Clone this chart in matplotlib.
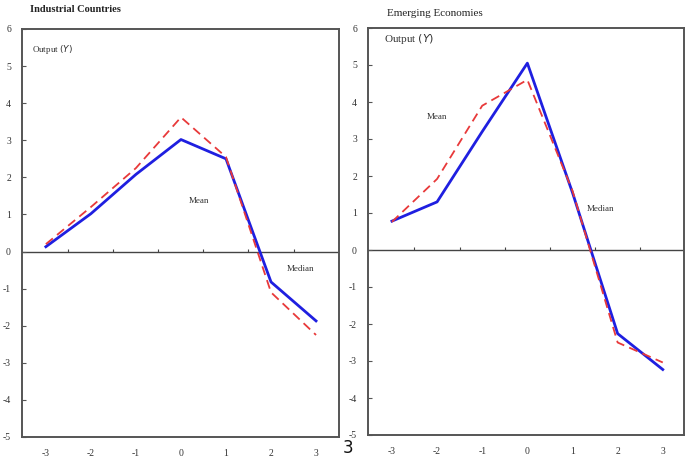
import matplotlib
matplotlib.use("Agg")
import matplotlib.pyplot as plt

plt.rcParams["font.family"] = ["Liberation Serif", "DejaVu Serif"]
plt.rcParams["axes.unicode_minus"] = False

# ── Data ───────────────────────────────────────────────────────────────────────
quarters = [-3, -2, -1, 0, 1, 2, 3]

ind_median = [0.13, 1.02, 2.08, 3.02, 2.50, -0.82, -1.87]   # solid blue
ind_mean   = [0.20, 1.20, 2.25, 3.62, 2.55, -1.10, -2.25]   # dashed red

eme_median = [0.78, 1.30, 3.20, 5.05, 1.55, -2.26, -3.23]
eme_mean   = [0.76, 1.92, 3.90, 4.60, 1.60, -2.50, -3.04]

y_ticks = [-5, -4, -3, -2, -1, 0, 1, 2, 3, 4, 5, 6]
half_ticks = [-2.5, -1.5, -0.5, 0.5, 1.5, 2.5]

C_BLUE = "#1f1fe0"
C_RED = "#e8393a"
C_FRAME = "#555555"
C_TEXT = "#333333"

W, H = 685, 458
fig = plt.figure(figsize=(W / 100, H / 100), dpi=100)


def px_axes(x0, y0, x1, y1):
    return fig.add_axes([x0 / W, 1 - y1 / H, (x1 - x0) / W, (y1 - y0) / H])


def style(ax, xlim):
    ax.set_xlim(*xlim)
    ax.set_ylim(-5, 6)
    ax.set_yticks(y_ticks)
    ax.set_xticks(quarters)
    ax.set_xticklabels([str(q) for q in quarters])
    ax.tick_params(axis="y", direction="in", length=3, width=0.8,
                   pad=8, labelsize=7, labelcolor=C_TEXT, color=C_FRAME)
    ax.tick_params(axis="x", length=0, pad=9, labelsize=7, labelcolor=C_TEXT)
    for s in ax.spines.values():
        s.set_color(C_FRAME)
        s.set_linewidth(1.4)
    ax.axhline(0, color="#444444", lw=1.0, zorder=1)
    ax.vlines(half_ticks, 0, 0.08, color="#444444", lw=0.8, zorder=1)


# ── Industrial countries ───────────────────────────────────────────────────────
ax1 = px_axes(22, 29, 339, 437)
style(ax1, (-3.53, 3.51))
ax1.plot(quarters, ind_mean, color=C_RED, lw=1.3, ls=(0, (5, 3)), zorder=3)
ax1.plot(quarters, ind_median, color=C_BLUE, lw=2.0, zorder=2)
ax1.text(0.03, 0.965, "Output $\\it{(Y)}$", transform=ax1.transAxes,
         fontsize=6.5, color=C_TEXT, va="top", ha="left")
ax1.text(0.4, 1.35, "Mean", fontsize=6.5, color=C_TEXT, ha="center", va="center")
ax1.text(2.65, -0.47, "Median", fontsize=6.5, color=C_TEXT, ha="center", va="center")

# ── Emerging economies ─────────────────────────────────────────────────────────
ax2 = px_axes(368, 28, 684, 435)
style(ax2, (-3.53, 3.47))
ax2.plot(quarters, eme_mean, color=C_RED, lw=1.3, ls=(0, (5, 3)), zorder=3)
ax2.plot(quarters, eme_median, color=C_BLUE, lw=2.0, zorder=2)
ax2.text(0.05, 0.99, "Output $\\it{(Y)}$", transform=ax2.transAxes,
         fontsize=8, color=C_TEXT, va="top", ha="left")
ax2.text(-2.0, 3.6, "Mean", fontsize=6.5, color=C_TEXT, ha="center", va="center")
ax2.text(1.62, 1.12, "Median", fontsize=6.5, color=C_TEXT, ha="center", va="center")

# ── Panel titles and page number ───────────────────────────────────────────────
fig.text(30 / W, 1 - 10 / H, "Industrial Countries", fontsize=7.5,
         fontweight="bold", color="#222222", ha="left", va="center")
fig.text(387 / W, 1 - 13 / H, "Emerging Economies", fontsize=8,
         color="#222222", ha="left", va="center")
fig.text(348 / W, 0.002, "3", fontsize=12, family="DejaVu Sans",
         color="#111111", ha="center", va="bottom")

fig.savefig("out.png", dpi=100, facecolor="white")
